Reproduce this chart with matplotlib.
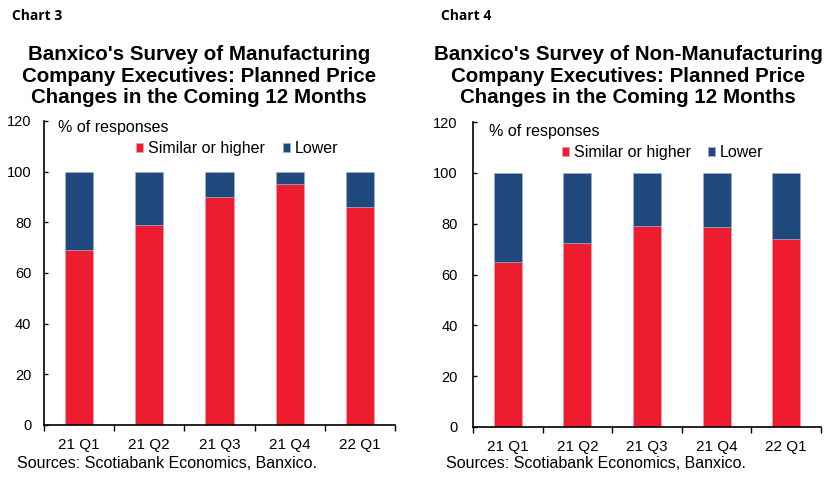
import numpy as np
import matplotlib
matplotlib.use("Agg")
from matplotlib import pyplot as plt

# data
quarters = ["21 Q1", "21 Q2", "21 Q3", "21 Q4", "22 Q1"]
mfg_similar = [69, 79, 90, 95, 86]
mfg_lower = [100 - v for v in mfg_similar]
nonmfg_similar = [65, 72.5, 79, 78.5, 74]
nonmfg_lower = [100 - v for v in nonmfg_similar]

titles = [
    "Banxico's Survey of Manufacturing\nCompany Executives: Planned Price\nChanges in the Coming 12 Months",
    "Banxico's Survey of Non-Manufacturing\nCompany Executives: Planned Price\nChanges in the Coming 12 Months",
]
chart_labels = ["Chart 3", "Chart 4"]
source = "Sources: Scotiabank Economics, Banxico."

RED = "#ED1C2E"
BLUE = "#1F497D"

plt.rcParams['font.family'] = ['Liberation Sans', 'DejaVu Sans']
plt.rcParams['font.size'] = 10

fig = plt.figure(figsize=(8.28, 4.83), dpi=100)

#----------------------------------------------------------------------
def panel(rect, similar, lower, title, label, title_x, chart_x, ypad,
          resp_xy, leg_anchor):
    ax = fig.add_axes(rect)
    x = np.arange(len(quarters))
    ax.bar(x, similar, width=0.4, color=RED, label="Similar or higher",
           edgecolor="#f5a0a8", linewidth=0.4)
    ax.bar(x, lower, width=0.4, bottom=similar, color=BLUE, label="Lower",
           edgecolor="#9fb3cc", linewidth=0.4)

    ax.set_xlim(-0.5, len(quarters) - 0.5)
    ax.set_ylim(0, 120)
    ax.set_yticks(np.arange(0, 121, 20))

    # categories at centres, tick marks between them
    ax.set_xticks(x)
    ax.set_xticklabels(quarters, fontsize=11)
    ax.set_xticks(np.arange(-0.5, len(quarters)), minor=True)
    ax.tick_params(axis='x', which='major', length=0, pad=9)
    ax.tick_params(axis='x', which='minor', length=4, direction='out',
                   width=1)
    ax.tick_params(axis='y', direction='in', length=3, width=1, pad=ypad,
                   labelsize=10.5)

    for s in ['top', 'right']:
        ax.spines[s].set_visible(False)
    for s in ['left', 'bottom']:
        ax.spines[s].set_linewidth(1.2)

    ax.text(resp_xy[0], resp_xy[1], "% of responses", transform=ax.transAxes,
            ha='left', va='center', fontsize=11.5)
    ax.legend(loc='center', bbox_to_anchor=leg_anchor, ncol=2,
              frameon=False, handlelength=0.45, handleheight=0.45,
              handletextpad=0.3, columnspacing=1.1, fontsize=11.5,
              borderpad=0, borderaxespad=0)

    fig.text(title_x, 1 - 76 / 483, title, ha='center', va='center',
             fontsize=14.8, fontweight='bold', linespacing=1.18)
    fig.text(chart_x, 1 - 16 / 483, label, ha='left', va='center',
             fontsize=10, fontweight='bold', family='Open Sans')
    fig.text(chart_x + 5 / 828, 1 - 463 / 483, source, ha='left',
             va='center', fontsize=11.5)
    return ax

panel([44 / 828, 58 / 483, 351 / 828, 304 / 483],
      mfg_similar, mfg_lower, titles[0], chart_labels[0],
      199 / 828, 12 / 828, 9, (0.04, 0.98), (0.55, 0.908))
panel([473 / 828, 56 / 483, 348 / 828, 305 / 483],
      nonmfg_similar, nonmfg_lower, titles[1], chart_labels[1],
      628 / 828, 441 / 828, 11, (0.046, 0.97), (0.545, 0.90))

plt.savefig("out.png", dpi=100)
